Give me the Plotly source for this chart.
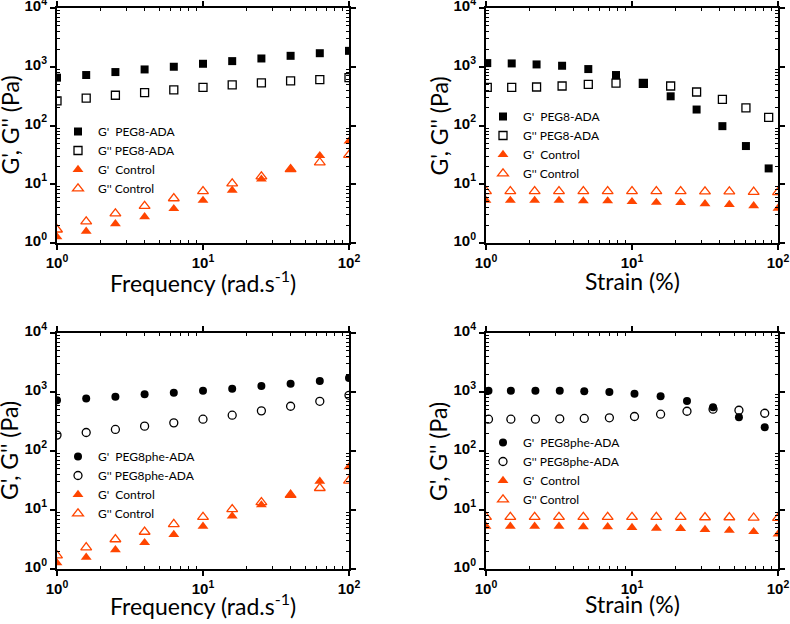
import plotly.graph_objects as go

# frequency sweeps (rad/s)
freq = [1, 1.585, 2.512, 3.981, 6.31, 10, 15.85, 25.12, 39.81, 63.1, 100]
peg8_freq_g1 = [652, 723, 812, 900, 1000, 1124, 1247, 1383, 1535, 1700, 1865]
peg8_freq_g2 = [263, 292, 327, 363, 403, 447, 490, 530, 573, 603, 652]
phe_freq_g1 = [724, 773, 834, 913, 975, 1053, 1138, 1262, 1381, 1531, 1722]
phe_freq_g2 = [186, 206, 232, 264, 300, 346, 404, 479, 573, 696, 879]
ctrl_freq_g1 = [1.27, 1.58, 2.12, 2.79, 3.83, 5.3, 7.9, 12.2, 18, 30.6, 54]
ctrl_freq_g2 = [1.69, 2.32, 3.18, 4.26, 5.75, 7.6, 10.3, 13.5, 18, 23.5, 31.4]

# strain sweeps (%)
strain_peg8 = [1.02, 1.50, 2.22, 3.32, 5.02, 7.77, 11.96, 18.4, 27.7, 41.6, 60.3, 86.3]
peg8_strain_g1 = [1154, 1139, 1095, 1040, 913, 723, 515, 314, 187, 97.5, 44.7, 18.6]
peg8_strain_g2 = [447, 447, 452, 470, 501, 528, 522, 470, 372, 279, 199, 138]
strain_phe = [1.04, 1.48, 2.18, 3.2, 4.71, 7.0, 10.4, 15.7, 23.8, 35.9, 54.0, 81.1]
phe_strain_g1 = [1053, 1053, 1053, 1053, 1026, 1000, 938, 845, 705, 552, 374, 253]
phe_strain_g2 = [346, 346, 346, 351, 356, 365, 384, 421, 472, 511, 491, 436]
strain_ctrl = [1, 1.468, 2.154, 3.162, 4.642, 6.813, 10, 14.68, 21.54, 31.62, 46.42, 68.13, 100]
ctrl_strain_g1 = [5.3, 5.3, 5.3, 5.3, 5.2, 5.2, 5.05, 4.9, 4.85, 4.65, 4.5, 4.3, 3.9]
ctrl_strain_g2 = [7.6, 7.6, 7.6, 7.6, 7.6, 7.6, 7.6, 7.6, 7.6, 7.5, 7.5, 7.4, 7.3]

x_ticks = [1, 10, 100]
x_labels = ['10<sup>0</sup>', '10<sup>1</sup>', '10<sup>2</sup>']
y_ticks = [1, 10, 100, 1000, 10000]
y_labels = ['10<sup>0</sup>', '10<sup>1</sup>', '10<sup>2</sup>', '10<sup>3</sup>', '10<sup>4</sup>']
x_minor = [m * d for d in (1, 10) for m in range(2, 10)]
y_minor = [m * d for d in (1, 10, 100, 1000) for m in range(2, 10)]
x_titles = ['Frequency (rad.s<sup>-1</sup>)', 'Strain (%)', 'Frequency (rad.s<sup>-1</sup>)', 'Strain (%)']
y_title = "G', G'' (Pa)"

ORANGE = '#ff4500'
NB = '\u00a0'

fig = go.Figure()

panels = [
    # x data, G' / G'' of the sample, sample name, symbol, control x, control G' / G''
    (freq, peg8_freq_g1, peg8_freq_g2, 'PEG8-ADA', 'square', freq, ctrl_freq_g1, ctrl_freq_g2),
    (strain_peg8, peg8_strain_g1, peg8_strain_g2, 'PEG8-ADA', 'square', strain_ctrl, ctrl_strain_g1, ctrl_strain_g2),
    (freq, phe_freq_g1, phe_freq_g2, 'PEG8phe-ADA', 'circle', freq, ctrl_freq_g1, ctrl_freq_g2),
    (strain_phe, phe_strain_g1, phe_strain_g2, 'PEG8phe-ADA', 'circle', strain_ctrl, ctrl_strain_g1, ctrl_strain_g2),
]

for i, (xs, g1, g2, name, sym, xc, c1, c2) in enumerate(panels):
    n = i + 1
    xa = 'x' if n == 1 else f'x{n}'
    ya = 'y' if n == 1 else f'y{n}'
    lg = 'legend' if n == 1 else f'legend{n}'
    size = 8
    fig.add_trace(go.Scatter(x=xs, y=g1, mode='markers', name=f"G'{NB}{NB}{name}",
                             marker=dict(symbol=sym, size=size, color='black'),
                             xaxis=xa, yaxis=ya, legend=lg))
    fig.add_trace(go.Scatter(x=xs, y=g2, mode='markers', name=f"G''{NB}{name}",
                             marker=dict(symbol=sym + '-open', size=size, color='black',
                                         line=dict(width=1.3, color='black')),
                             xaxis=xa, yaxis=ya, legend=lg))
    fig.add_trace(go.Scatter(x=xc, y=c1, mode='markers', name=f"G'{NB}{NB}Control",
                             marker=dict(symbol='triangle-up', size=9.5, color=ORANGE),
                             xaxis=xa, yaxis=ya, legend=lg))
    fig.add_trace(go.Scatter(x=xc, y=c2, mode='markers', name=f"G''{NB}Control",
                             marker=dict(symbol='triangle-up-open', size=9.5, color=ORANGE,
                                         line=dict(width=1.3, color=ORANGE)),
                             xaxis=xa, yaxis=ya, legend=lg))

W, H = 790, 624
# plot boxes in pixels: left, right / top, bottom
box_x = [(57, 349), (486, 778)]
box_y = [(8, 243), (333, 569)]
xtitle_gap = [38, 35]
tickfont = dict(family='Liberation Sans', size=15, color='black', weight='bold')
titlefont = dict(family='Lato', size=23, color='black')

layout = dict(
    width=W, height=H, margin=dict(l=0, r=0, t=0, b=0, autoexpand=False),
    paper_bgcolor='white', plot_bgcolor='white', showlegend=True,
)

legend_pos = [(58, 117), (483, 102), (58, 442), (483, 428)]
annotations = []

for i in range(4):
    n = i + 1
    col, row = i % 2, i // 2
    (x0, x1), (y0, y1) = box_x[col], box_y[row]
    common = dict(
        type='log', automargin=False, showline=True, linecolor='black', linewidth=2, mirror='ticks',
        showgrid=False, zeroline=False, ticks='outside', ticklen=5, tickwidth=1.5,
        tickcolor='black', tickfont=tickfont, tickmode='array', ticklabeloverflow='allow',
        minor=dict(ticks='inside', ticklen=3, tickwidth=1, tickcolor='black',
                   showgrid=False, tickmode='array'),
    )
    xkey = 'xaxis' if n == 1 else f'xaxis{n}'
    ykey = 'yaxis' if n == 1 else f'yaxis{n}'
    layout[xkey] = dict(common, domain=[x0 / W, x1 / W], range=[0, 2],
                        anchor='y' if n == 1 else f'y{n}',
                        tickvals=x_ticks, ticktext=x_labels,
                        minor=dict(common['minor'], tickvals=x_minor))
    layout[ykey] = dict(common, domain=[1 - y1 / H, 1 - y0 / H], range=[0, 4],
                        anchor='x' if n == 1 else f'x{n}', ticklabelshift=-2,
                        tickvals=y_ticks, ticktext=y_labels,
                        minor=dict(common['minor'], tickvals=y_minor))
    # axis titles
    annotations.append(dict(text=x_titles[i], xref='paper', yref='paper',
                            x=(x0 + x1) / 2 / W, y=1 - (y1 + xtitle_gap[row]) / H,
                            xanchor='center', yanchor='middle', showarrow=False, font=titlefont))
    annotations.append(dict(text=y_title, xref='paper', yref='paper', textangle=-90,
                            x=(x0 - 48) / W, y=1 - (y0 + y1) / 2 / H,
                            xanchor='center', yanchor='middle', showarrow=False, font=titlefont))
    lkey = 'legend' if n == 1 else f'legend{n}'
    lx, ly = legend_pos[i]
    layout[lkey] = dict(x=lx / W, y=1 - ly / H, xanchor='left', yanchor='top',
                        bgcolor='rgba(0,0,0,0)', borderwidth=0, tracegroupgap=0,
                        font=dict(family='Lato', size=12, color='black'))

layout['annotations'] = annotations
fig.update_layout(**layout)
# drop the default 8px page margin so the figure sits at the window's corner
fig.write_html('out.html', config={'displayModeBar': False},
               post_script="document.body.style.margin='0px';")
